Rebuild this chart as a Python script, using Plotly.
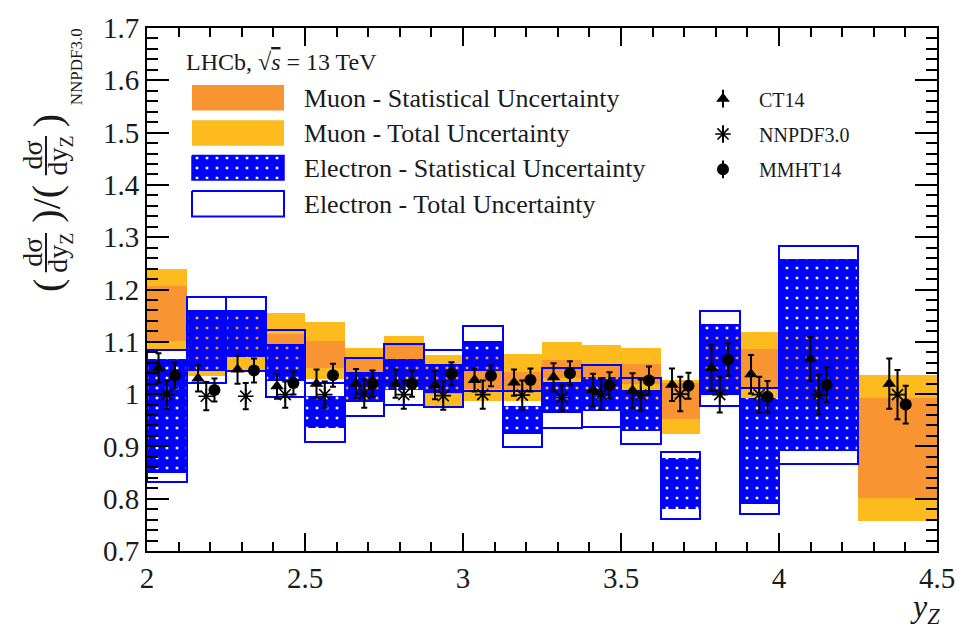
import plotly.graph_objects as go

# ---------------- data ----------------
bin_edges = [2.0, 2.125, 2.25, 2.375, 2.5, 2.625, 2.75, 2.875, 3.0, 3.125,
             3.25, 3.375, 3.5, 3.625, 3.75, 3.875, 4.0, 4.25, 4.5]

mu_stat_lo = [1.102, 1.055, 1.070, 1.050, 1.050, 1.005, 1.035, 1.000, 1.010,
              1.008, 1.030, 1.030, 1.020, 0.952, 1.020, 1.011, 1.000, 0.802]
mu_stat_hi = [1.207, 1.130, 1.130, 1.115, 1.102, 1.069, 1.093, 1.050, 1.070,
              1.043, 1.066, 1.056, 1.058, 1.022, 1.090, 1.086, 1.100, 0.992]
mu_tot_lo = [1.085, 1.034, 1.047, 1.038, 1.028, 0.990, 1.015, 0.977, 0.986,
             0.987, 1.000, 0.998, 0.990, 0.924, 1.000, 0.992, 0.980, 0.758]
mu_tot_hi = [1.240, 1.152, 1.150, 1.155, 1.138, 1.089, 1.111, 1.074, 1.082,
             1.077, 1.099, 1.093, 1.089, 1.027, 1.112, 1.119, 1.115, 1.036]

el_stat_lo = [0.850, 1.044, 1.071, 1.026, 0.936, 0.984, 1.008, 1.003, 1.045,
              0.924, 0.964, 0.968, 0.930, 0.780, 0.999, 0.789, 0.892, None]
el_stat_hi = [1.068, 1.161, 1.161, 1.096, 0.996, 1.043, 1.068, 1.057, 1.102,
              0.977, 1.024, 1.033, 1.008, 0.877, 1.134, 0.992, 1.258, None]
el_tot_lo = [0.832, 1.021, 1.045, 0.994, 0.908, 0.958, 0.980, 0.976, 1.005,
             0.899, 0.936, 0.938, 0.905, 0.762, 0.978, 0.770, 0.867, None]
el_tot_hi = [1.084, 1.186, 1.186, 1.122, 1.021, 1.069, 1.096, 1.084, 1.131,
             1.005, 1.049, 1.056, 1.030, 0.890, 1.159, 1.011, 1.283, None]

ct14 = [1.050, 1.030, 1.047, 1.015, 1.020, 1.020, 1.020, 1.017, 1.027,
        1.022, 1.032, 1.008, 1.007, 1.018, 1.050, 1.038, 1.067, 1.020]
ct14_err = [0.028, 0.025, 0.027, 0.024, 0.027, 0.028, 0.027, 0.027, 0.022,
            0.025, 0.027, 0.031, 0.033, 0.031, 0.044, 0.037, 0.042, 0.048]
nnpdf = [0.999, 0.996, 0.996, 0.999, 0.999, 1.001, 0.999, 0.997, 0.999,
         0.998, 0.993, 1.000, 0.998, 1.000, 0.999, 0.999, 0.999, 0.999]
nnpdf_err = [0.027, 0.027, 0.025, 0.025, 0.025, 0.027, 0.027, 0.027, 0.027,
             0.028, 0.025, 0.030, 0.030, 0.033, 0.034, 0.034, 0.038, 0.047]
mmht = [1.036, 1.008, 1.045, 1.021, 1.036, 1.020, 1.020, 1.039, 1.035,
        1.027, 1.040, 1.017, 1.026, 1.016, 1.066, 0.995, 1.018, 0.980]
mmht_err = [0.024, 0.022, 0.023, 0.022, 0.022, 0.025, 0.025, 0.022, 0.020,
            0.022, 0.023, 0.025, 0.027, 0.025, 0.031, 0.030, 0.033, 0.036]

legend_bands = ["Muon - Statistical Uncertainty", "Muon - Total Uncertainty",
                "Electron - Statistical Uncertainty", "Electron - Total Uncertainty"]
legend_models = ["CT14", "NNPDF3.0", "MMHT14"]

# ---------------- style ----------------
FONT = "'Liberation Serif', 'Times New Roman', Times, 'DejaVu Serif', serif"
C_STAT = "#f99433"
C_TOT = "#fdbb1e"
C_BLUE = "#0000ff"
TXT = "#1a1a1a"
X_OFF = 0.026
PAT = dict(shape="+", fgcolor=C_BLUE, size=10, solidity=0.93, fillmode="replace")

# plot area in pixels
L, R, T, B = 147, 937, 18, 551
W, H = 972, 628


def pxx(px):
    return (px - L) / (R - L)


def pxy(py):
    return (B - py) / (B - T)


centers = [(bin_edges[i] + bin_edges[i + 1]) / 2 for i in range(len(bin_edges) - 1)]
widths = [bin_edges[i + 1] - bin_edges[i] for i in range(len(bin_edges) - 1)]

fig = go.Figure()


def band(lo, hi, **kw):
    idx = [i for i in range(len(lo)) if lo[i] is not None]
    fig.add_trace(go.Bar(
        x=[centers[i] for i in idx],
        width=[widths[i] for i in idx],
        base=[lo[i] for i in idx],
        y=[hi[i] - lo[i] for i in idx],
        showlegend=False, hoverinfo="skip", **kw))


band(mu_tot_lo, mu_tot_hi, marker=dict(color=C_TOT, line=dict(width=0)))
band(mu_stat_lo, mu_stat_hi, marker=dict(color=C_STAT, line=dict(width=0)))
band(el_stat_lo, el_stat_hi, marker=dict(color=C_BLUE, line=dict(width=0), pattern=PAT))
band(el_tot_lo, el_tot_hi, marker=dict(color="rgba(0,0,0,0)", line=dict(width=2, color=C_BLUE)))

models = [
    (ct14, ct14_err, -X_OFF, dict(symbol="triangle-up", size=12, color="black")),
    (nnpdf, nnpdf_err, 0.0, dict(symbol="asterisk-open", size=13, color="black",
                                 line=dict(width=1.6, color="black"))),
    (mmht, mmht_err, X_OFF, dict(symbol="circle", size=12, color="black")),
]
for vals, errs, off, mk in models:
    fig.add_trace(go.Scatter(
        x=[c + off for c in centers], y=vals, mode="markers", marker=mk,
        error_y=dict(type="data", array=errs, width=3, thickness=2, color="black"),
        showlegend=False, hoverinfo="skip", cliponaxis=False))

# ---------------- legend (pixel overlay axes) ----------------
sw_x0, sw_x1 = 192, 284
sw_rows = [(76, 102), (112, 138), (148, 173), (184, 210)]
sw_styles = [
    dict(fillcolor=C_STAT, line=dict(width=0, color=C_STAT)),
    dict(fillcolor=C_TOT, line=dict(width=0, color=C_TOT)),
    dict(fillcolor=C_BLUE, line=dict(width=1.5, color=C_BLUE), fillpattern=PAT),
    dict(fillcolor="white", line=dict(width=2, color=C_BLUE)),
]
for (y0, y1), st, lab in zip(sw_rows, sw_styles, legend_bands):
    fig.add_trace(go.Scatter(
        x=[sw_x0, sw_x1, sw_x1, sw_x0, sw_x0], y=[y0, y0, y1, y1, y0],
        mode="lines", fill="toself", xaxis="x2", yaxis="y2",
        showlegend=False, hoverinfo="skip", **st))
    fig.add_annotation(x=pxx(302), y=pxy((y0 + y1) / 2 + 1), xref="paper", yref="paper",
                       text=lab, showarrow=False, xanchor="left", yanchor="middle",
                       font=dict(family=FONT, size=26, color=TXT))

mk_rows = [90, 126, 162]
for (vals, errs, off, mk), yy, lab in zip(models, mk_rows, legend_models):
    fig.add_trace(go.Scatter(
        x=[723], y=[yy], mode="markers", marker=mk, xaxis="x2", yaxis="y2",
        error_y=dict(type="data", array=[9], width=0, thickness=2, color="black"),
        showlegend=False, hoverinfo="skip"))
    fig.add_annotation(x=pxx(757), y=pxy(yy + 1), xref="paper", yref="paper",
                       text=lab, showarrow=False, xanchor="left", yanchor="middle",
                       font=dict(family=FONT, size=20, color=TXT))

fig.add_annotation(x=pxx(184), y=pxy(53), xref="paper", yref="paper",
                   text="LHCb, √<span style='text-decoration:overline'><i>s</i></span> = 13 TeV",
                   showarrow=False, xanchor="left", yanchor="middle",
                   font=dict(family=FONT, size=24, color=TXT))

# ---------------- axis titles ----------------
fig.add_annotation(x=pxx(925), y=pxy(610), xref="paper", yref="paper",
                   text="<i>y</i><sub><i>Z</i></sub>", showarrow=False,
                   xanchor="center", yanchor="middle",
                   font=dict(family=FONT, size=32, color=TXT))

tf = dict(family=FONT, size=29, color=TXT)


def yt(text, x, y, size=28):
    fig.add_annotation(x=pxx(x), y=pxy(y), xref="paper", yref="paper", text=text,
                       showarrow=False, textangle=-90, xanchor="center", yanchor="middle",
                       font=dict(family=FONT, size=size, color=TXT))


yt("(", 47, 281, 40)
yt("dσ", 33, 247, 28)
yt("dy<sub>Z</sub>", 60, 247, 28)
yt(")/(", 47, 197, 40)
yt("dσ", 33, 148, 28)
yt("dy<sub>Z</sub>", 60, 148, 28)
yt(")", 47, 113, 40)
yt("NNPDF3.0", 76, 58, 17)
for yc in (247, 148):
    fig.add_shape(type="line", xref="paper", yref="paper",
                  x0=pxx(46), x1=pxx(46), y0=pxy(yc - 20), y1=pxy(yc + 20),
                  line=dict(color=TXT, width=2))

# ---------------- layout ----------------
axis_common = dict(showline=True, linewidth=2, linecolor="black", mirror="allticks",
                   ticks="inside", tickcolor="black", showgrid=False, zeroline=False,
                   tickfont=tf)
fig.update_layout(
    width=W, height=H,
    margin=dict(l=L, r=W - R, t=T, b=H - B),
    plot_bgcolor="white", paper_bgcolor="white",
    font=dict(family=FONT, color=TXT),
    barmode="overlay", bargap=0,
    showlegend=False,
    xaxis=dict(range=[2, 4.5], dtick=0.5, tick0=2, ticklen=18, tickwidth=2,
               minor=dict(dtick=0.1, ticklen=9, tickwidth=1.5, ticks="inside", tickcolor="black"),
               **axis_common),
    yaxis=dict(range=[0.7, 1.7], dtick=0.1, tick0=0.7, ticklen=22, tickwidth=2,
               minor=dict(dtick=0.02, ticklen=11, tickwidth=1.5, ticks="inside", tickcolor="black"),
               **axis_common),
    xaxis2=dict(range=[L, R], overlaying="x", visible=False, fixedrange=True),
    yaxis2=dict(range=[B, T], overlaying="y", visible=False, fixedrange=True),
)

fig.write_html("out.html")
